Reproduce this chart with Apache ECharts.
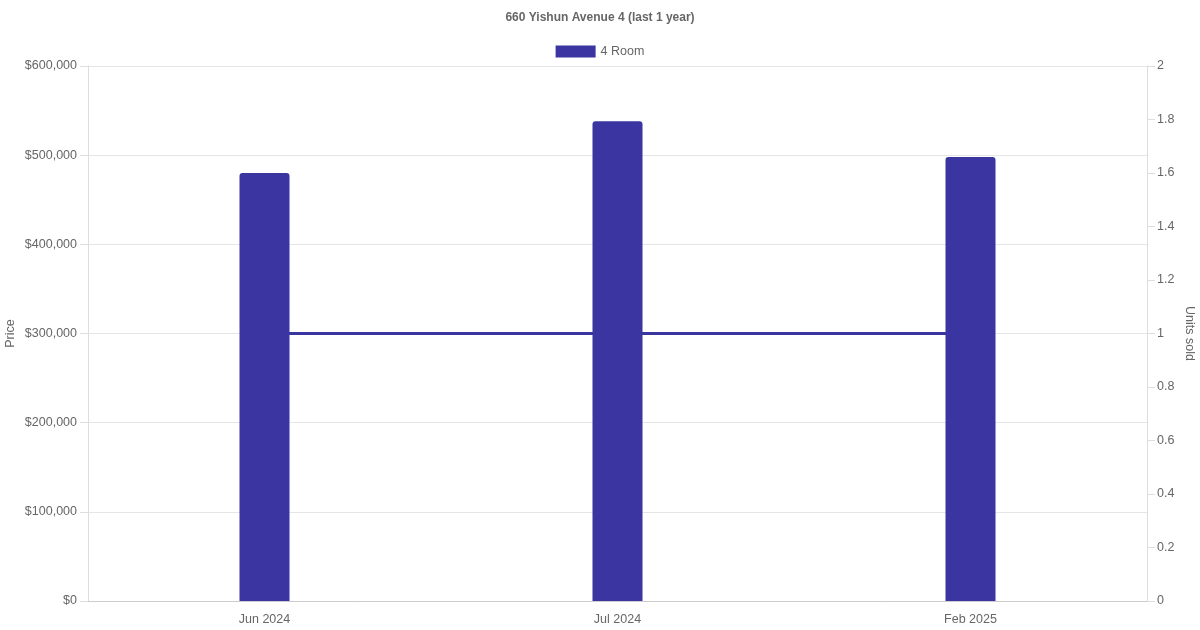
<!DOCTYPE html>
<html>
<head>
<meta charset="utf-8">
<script src="https://cdn.jsdelivr.net/npm/echarts@6/dist/echarts.min.js"></script>
<style>html,body{margin:0;padding:0;background:#fff;}#c{width:1200px;height:630px;}</style>
</head>
<body>
<div id="c"></div>
<script>
const categories = ['Jun 2024', 'Jul 2024', 'Feb 2025'];
const prices = [480000, 538000, 498000];
const unitsSold = [1, 1, 1];
const titleText = '660 Yishun Avenue 4 (last 1 year)';
const seriesName = '4 Room';

const color = '#3a35a0';
const font = '"Liberation Sans", Arial, Helvetica, sans-serif';
const fs = 12.5;
const chart = echarts.init(document.getElementById('c'));
chart.setOption({
  animation: false,
  textStyle: { fontFamily: font },
  title: {
    text: titleText, left: 'center', top: 7,
    textStyle: { fontSize: 12, fontWeight: 'bold', color: '#666', fontFamily: font }
  },
  legend: {
    data: [{ name: seriesName, icon: 'rect' }], top: 40, left: 'center',
    itemWidth: 40, itemHeight: 12, itemGap: 6,
    textStyle: { fontSize: fs, color: '#666', fontFamily: font }
  },
  grid: { left: 88, right: 53, top: 66, bottom: 29, containLabel: false, outerBoundsMode: 'none' },
  xAxis: {
    type: 'category', data: categories,
    axisLine: { lineStyle: { color: '#ccc' } },
    axisTick: { show: false },
    axisLabel: { color: '#666', fontSize: fs, margin: 12, fontFamily: font },
    splitLine: { show: false }
  },
  yAxis: [{
    type: 'value', min: 0, max: 600000, interval: 100000,
    name: 'Price', nameLocation: 'middle', nameGap: 71, nameMoveOverlap: false,
    nameTextStyle: { color: '#666', fontSize: fs, fontFamily: font },
    axisLine: { show: true, lineStyle: { color: '#ddd' } },
    axisTick: { show: true, length: 8, lineStyle: { color: '#ddd' } },
    axisLabel: { color: '#666', fontSize: fs, margin: 11, fontFamily: font,
      formatter: v => '$' + v.toLocaleString('en-US') },
    splitLine: { lineStyle: { color: '#e5e5e5' } }
  }, {
    type: 'value', min: 0, max: 2, interval: 0.2, position: 'right',
    name: 'Units sold', nameLocation: 'middle', nameGap: 36, nameRotate: -90, nameMoveOverlap: false,
    nameTextStyle: { color: '#666', fontSize: fs, fontFamily: font },
    axisLine: { show: true, lineStyle: { color: '#ddd' } },
    axisTick: { show: true, length: 8, lineStyle: { color: '#ddd' } },
    axisLabel: { color: '#666', fontSize: fs, margin: 10, fontFamily: font,
      formatter: v => String(Math.round(v * 10) / 10) },
    splitLine: { show: false }
  }],
  series: [{
    name: seriesName, type: 'bar', data: prices, yAxisIndex: 0,
    barWidth: 50, z: 3,
    itemStyle: { color: color, borderRadius: [3, 3, 0, 0] }
  }, {
    name: 'Units sold', type: 'line', data: unitsSold, yAxisIndex: 1,
    showSymbol: false, symbol: 'none', z: 1,
    lineStyle: { color: color, width: 3 }, itemStyle: { color: color }
  }]
});
</script>
</body>
</html>
